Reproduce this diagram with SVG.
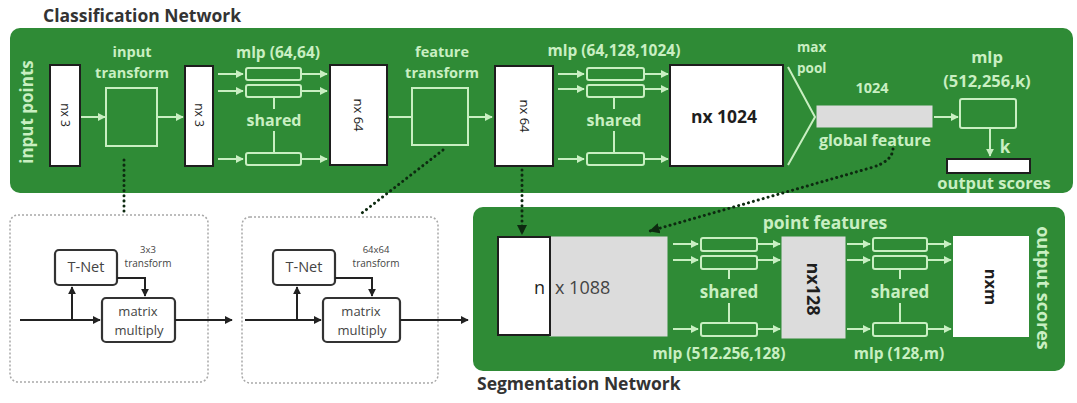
<svg xmlns="http://www.w3.org/2000/svg" width="1077" height="403" viewBox="0 0 1077 403">
  <defs>
    <style>
      .panel { fill: #2f8b36; }
      .lg { fill: none; stroke: #c9efc2; stroke-width: 2; }
      .lbl { font-family: "Open Sans", "DejaVu Sans", sans-serif; font-weight: 700; fill: #c9efc2; text-anchor: middle; }
      .title { font-family: "Open Sans", "DejaVu Sans", sans-serif; font-weight: 700; font-size: 17.5px; fill: #333333; }
      .wbox { fill: #ffffff; stroke: #1e1e1e; stroke-width: 2; }
      .gbox { fill: #dcdcdc; stroke: #dcdcdc; stroke-width: 1; }
      .dark { font-family: "Open Sans", "DejaVu Sans", sans-serif; fill: #1e1e1e; text-anchor: middle; }
      .dot { fill: none; stroke: #0d2a10; stroke-width: 3; stroke-dasharray: 0.1 5; stroke-linecap: round; }
      .frame { fill: #ffffff; stroke: #a8a8a8; stroke-width: 1.5; stroke-dasharray: 2 2; }
      .kbox { fill: #ffffff; stroke: #333333; stroke-width: 2.2; }
      .kline { fill: none; stroke: #222222; stroke-width: 2; }
      .ktext { font-family: "Open Sans", "DejaVu Sans", sans-serif; fill: #444444; text-anchor: middle; }
    </style>
    <marker id="ah" viewBox="0 0 10 10" refX="9" refY="5" markerWidth="4" markerHeight="4" orient="auto">
      <path d="M0,0 L10,5 L0,10 z" fill="#c9efc2"/>
    </marker>
    <marker id="ak" viewBox="0 0 10 10" refX="9" refY="5" markerWidth="4" markerHeight="4" orient="auto">
      <path d="M0,0 L10,5 L0,10 z" fill="#222222"/>
    </marker>
    <marker id="ad" viewBox="0 0 10 10" refX="9" refY="5" markerWidth="3.5" markerHeight="3.5" orient="auto">
      <path d="M0,0 L10,5 L0,10 z" fill="#0d2a10"/>
    </marker>
  </defs>

  <rect width="1077" height="403" fill="#ffffff"/>

  <!-- ===== Classification network panel ===== -->
  <g id="classification-panel">
    <text class="title" x="43" y="22">Classification Network</text>
    <rect class="panel" x="10" y="28" width="1063" height="165" rx="10"/>
    <text class="lbl" font-size="17" transform="translate(33,112) rotate(-90)">input points</text>
  </g>

  <g id="input-nx3">
    <rect class="wbox" x="50" y="65" width="30" height="101"/>
    <text class="dark" font-size="12" transform="translate(61,115) rotate(90)">nx 3</text>
  </g>

  <g id="input-transform">
    <text class="lbl" font-size="14.5" x="132" y="57">input</text>
    <text class="lbl" font-size="14.5" x="132" y="78">transform</text>
    <rect class="lg" x="106" y="88" width="51" height="58"/>
  </g>

  <g id="transformed-nx3">
    <rect class="wbox" x="185" y="66" width="28" height="100"/>
    <text class="dark" font-size="12" transform="translate(195,115) rotate(90)">nx 3</text>
  </g>

  <g id="mlp-64-64">
    <text class="lbl" font-size="15.5" x="278" y="58">mlp (64,64)</text>
    <rect class="lg" x="246" y="68" width="55" height="12" rx="2"/>
    <rect class="lg" x="246" y="85" width="55" height="12" rx="2"/>
    <rect class="lg" x="246" y="153" width="55" height="12" rx="2"/>
    <line class="lg" x1="274" y1="97" x2="274" y2="109"/>
    <line class="lg" x1="274" y1="131" x2="274" y2="153"/>
    <text class="lbl" font-size="16" x="274" y="126">shared</text>
  </g>

  <g id="features-nx64">
    <rect class="wbox" x="330" y="65" width="57" height="100"/>
    <text class="dark" font-size="13" transform="translate(354,115) rotate(90)">nx 64</text>
  </g>

  <g id="feature-transform">
    <text class="lbl" font-size="14.5" x="442" y="57">feature</text>
    <text class="lbl" font-size="14.5" x="442" y="78">transform</text>
    <rect class="lg" x="412" y="88" width="56" height="57"/>
  </g>

  <g id="transformed-nx64">
    <rect class="wbox" x="495" y="66" width="58" height="100"/>
    <text class="dark" font-size="13" transform="translate(520,116) rotate(90)">nx 64</text>
  </g>

  <g id="mlp-64-128-1024">
    <text class="lbl" font-size="15.5" x="614" y="56">mlp (64,128,1024)</text>
    <rect class="lg" x="587" y="68" width="57" height="12" rx="2"/>
    <rect class="lg" x="587" y="85" width="57" height="12" rx="2"/>
    <rect class="lg" x="587" y="153" width="57" height="12" rx="2"/>
    <line class="lg" x1="614" y1="97" x2="614" y2="109"/>
    <line class="lg" x1="614" y1="131" x2="614" y2="153"/>
    <text class="lbl" font-size="16" x="614" y="126">shared</text>
  </g>

  <g id="nx1024">
    <rect class="wbox" x="670" y="65" width="113" height="101"/>
    <text class="dark" font-size="17.5" font-weight="700" x="724" y="123">nx 1024</text>
  </g>

  <g id="max-pool">
    <text class="lbl" font-size="13.5" x="797" y="52" style="text-anchor:start">max</text>
    <text class="lbl" font-size="13.5" x="797" y="73" style="text-anchor:start">pool</text>
    <path class="lg" d="M788,67 L815,117 L788,165"/>
  </g>

  <g id="global-feature">
    <text class="lbl" font-size="14.5" x="872" y="93">1024</text>
    <rect class="gbox" x="817" y="106" width="115" height="21"/>
    <text class="lbl" font-size="16" x="875" y="146">global feature</text>
  </g>

  <g id="mlp-512-256-k">
    <text class="lbl" font-size="16.5" x="987" y="63">mlp</text>
    <text class="lbl" font-size="16.5" x="987" y="87">(512,256,k)</text>
    <rect class="lg" x="960" y="99" width="56" height="29" rx="2"/>
    <text class="lbl" font-size="17" x="1005" y="153">k</text>
  </g>

  <g id="class-output-scores">
    <rect class="wbox" x="947" y="159" width="83" height="14"/>
    <text class="lbl" font-size="16.5" x="994" y="189">output scores</text>
  </g>

  <!-- ===== T-Net detail frames ===== -->
  <g id="input-tnet-frame">
    <rect class="frame" x="10" y="215" width="198" height="167" rx="8"/>
    <rect class="kbox" x="55" y="250" width="62" height="35" rx="4"/>
    <text class="ktext" font-size="14.5" x="86" y="272">T-Net</text>
    <text class="ktext" font-size="9.5" x="148" y="253">3x3</text>
    <text class="ktext" font-size="10" x="148" y="267">transform</text>
    <rect class="kbox" x="102" y="298" width="73" height="44" rx="4"/>
    <text class="ktext" font-size="13" x="138" y="316">matrix</text>
    <text class="ktext" font-size="13" x="139" y="335">multiply</text>
  </g>

  <g id="feature-tnet-frame">
    <rect class="frame" x="242" y="217" width="196" height="166" rx="8"/>
    <rect class="kbox" x="273" y="250" width="62" height="35" rx="4"/>
    <text class="ktext" font-size="14.5" x="304" y="272">T-Net</text>
    <text class="ktext" font-size="9.5" x="376" y="253">64x64</text>
    <text class="ktext" font-size="10" x="376" y="267">transform</text>
    <rect class="kbox" x="323" y="298" width="77" height="44" rx="4"/>
    <text class="ktext" font-size="13" x="361" y="316">matrix</text>
    <text class="ktext" font-size="13" x="362" y="335">multiply</text>
  </g>

  <!-- ===== Segmentation network panel ===== -->
  <g id="segmentation-panel">
    <rect class="panel" x="473" y="207" width="592" height="164" rx="10"/>
    <text class="title" x="477" y="390">Segmentation Network</text>
    <text class="lbl" font-size="18" transform="translate(1037,288) rotate(90)">output scores</text>
  </g>

  <g id="concat-nx1088">
    <rect class="gbox" x="550" y="237" width="117" height="99"/>
    <rect class="wbox" x="498" y="237" width="52" height="98"/>
    <text class="dark" font-size="18" x="545" y="294" style="text-anchor:end">n</text>
    <text class="dark" font-size="18" x="555" y="294" style="text-anchor:start;fill:#444444">x 1088</text>
  </g>

  <g id="mlp-512-256-128">
    <text class="lbl" font-size="17.5" x="825" y="229">point features</text>
    <rect class="lg" x="701" y="238" width="56" height="13" rx="2"/>
    <rect class="lg" x="701" y="256" width="56" height="13" rx="2"/>
    <rect class="lg" x="701" y="323" width="56" height="13" rx="2"/>
    <line class="lg" x1="729" y1="269" x2="729" y2="279"/>
    <line class="lg" x1="729" y1="303" x2="729" y2="323"/>
    <text class="lbl" font-size="17" x="729" y="298">shared</text>
    <text class="lbl" font-size="15.5" x="719" y="359">mlp (512.256,128)</text>
  </g>

  <g id="point-features-nx128">
    <rect class="gbox" x="782" y="237" width="63" height="101"/>
    <text class="dark" font-size="18" font-weight="700" transform="translate(807,289) rotate(90)">nx128</text>
  </g>

  <g id="mlp-128-m">
    <rect class="lg" x="873" y="238" width="54" height="13" rx="2"/>
    <rect class="lg" x="873" y="256" width="54" height="13" rx="2"/>
    <rect class="lg" x="873" y="323" width="54" height="13" rx="2"/>
    <line class="lg" x1="900" y1="269" x2="900" y2="279"/>
    <line class="lg" x1="900" y1="303" x2="900" y2="323"/>
    <text class="lbl" font-size="17" x="900" y="298">shared</text>
    <text class="lbl" font-size="15.5" x="899" y="359">mlp (128,m)</text>
  </g>

  <g id="seg-nxm">
    <rect x="953" y="236" width="76" height="101" fill="#ffffff"/>
    <text class="dark" font-size="16.5" font-weight="700" transform="translate(985,287) rotate(90)">nxm</text>
  </g>

  <!-- ===== Connectors ===== -->
  <g id="connectors">
    <!-- classification flow -->
    <line class="lg" x1="81" y1="117" x2="105" y2="117" marker-end="url(#ah)"/>
    <line class="lg" x1="158" y1="117" x2="183" y2="117" marker-end="url(#ah)"/>
    <line class="lg" x1="218" y1="74" x2="243" y2="74" marker-end="url(#ah)"/>
    <line class="lg" x1="218" y1="91" x2="243" y2="91" marker-end="url(#ah)"/>
    <line class="lg" x1="218" y1="159" x2="243" y2="159" marker-end="url(#ah)"/>
    <line class="lg" x1="302" y1="74" x2="327" y2="74" marker-end="url(#ah)"/>
    <line class="lg" x1="302" y1="91" x2="327" y2="91" marker-end="url(#ah)"/>
    <line class="lg" x1="302" y1="159" x2="327" y2="159" marker-end="url(#ah)"/>
    <line class="lg" x1="389" y1="117" x2="411" y2="117"/>
    <line class="lg" x1="469" y1="117" x2="492" y2="117" marker-end="url(#ah)"/>
    <line class="lg" x1="558" y1="74" x2="584" y2="74" marker-end="url(#ah)"/>
    <line class="lg" x1="558" y1="89" x2="584" y2="89" marker-end="url(#ah)"/>
    <line class="lg" x1="558" y1="159" x2="584" y2="159" marker-end="url(#ah)"/>
    <line class="lg" x1="645" y1="74" x2="668" y2="74" marker-end="url(#ah)"/>
    <line class="lg" x1="645" y1="89" x2="668" y2="89" marker-end="url(#ah)"/>
    <line class="lg" x1="645" y1="159" x2="668" y2="159" marker-end="url(#ah)"/>
    <line class="lg" x1="934" y1="117" x2="958" y2="117" marker-end="url(#ah)"/>
    <line class="lg" x1="990" y1="129" x2="990" y2="156" marker-end="url(#ah)"/>

    <!-- T-Net flows -->
    <line class="kline" x1="20" y1="320" x2="100" y2="320" marker-end="url(#ak)"/>
    <line class="kline" x1="72" y1="320" x2="72" y2="287" marker-end="url(#ak)"/>
    <polyline class="kline" points="117,278 145,278 145,296" marker-end="url(#ak)"/>
    <line class="kline" x1="175" y1="320" x2="232" y2="320" marker-end="url(#ak)"/>
    <line class="kline" x1="245" y1="320" x2="321" y2="320" marker-end="url(#ak)"/>
    <line class="kline" x1="297" y1="320" x2="297" y2="287" marker-end="url(#ak)"/>
    <polyline class="kline" points="335,278 372,278 372,296" marker-end="url(#ak)"/>
    <line class="kline" x1="400" y1="320" x2="468" y2="320" marker-end="url(#ak)"/>

    <!-- dotted links between the two networks -->
    <line class="dot" x1="124" y1="160" x2="124" y2="212"/>
    <line class="dot" x1="443" y1="150" x2="362" y2="213"/>
    <line class="dot" x1="522" y1="170" x2="522" y2="234" marker-end="url(#ad)"/>
    <path class="dot" d="M893,149 Q892,162 870,168 L650,231" marker-end="url(#ad)"/>

    <!-- segmentation flow -->
    <line class="lg" x1="673" y1="244" x2="698" y2="244" marker-end="url(#ah)"/>
    <line class="lg" x1="673" y1="260" x2="698" y2="260" marker-end="url(#ah)"/>
    <line class="lg" x1="673" y1="329" x2="698" y2="329" marker-end="url(#ah)"/>
    <line class="lg" x1="758" y1="244" x2="780" y2="244" marker-end="url(#ah)"/>
    <line class="lg" x1="758" y1="260" x2="780" y2="260" marker-end="url(#ah)"/>
    <line class="lg" x1="758" y1="329" x2="780" y2="329" marker-end="url(#ah)"/>
    <line class="lg" x1="847" y1="244" x2="870" y2="244" marker-end="url(#ah)"/>
    <line class="lg" x1="847" y1="260" x2="870" y2="260" marker-end="url(#ah)"/>
    <line class="lg" x1="847" y1="329" x2="870" y2="329" marker-end="url(#ah)"/>
    <line class="lg" x1="928" y1="244" x2="951" y2="244" marker-end="url(#ah)"/>
    <line class="lg" x1="928" y1="260" x2="951" y2="260" marker-end="url(#ah)"/>
    <line class="lg" x1="928" y1="329" x2="951" y2="329" marker-end="url(#ah)"/>
  </g>
</svg>
